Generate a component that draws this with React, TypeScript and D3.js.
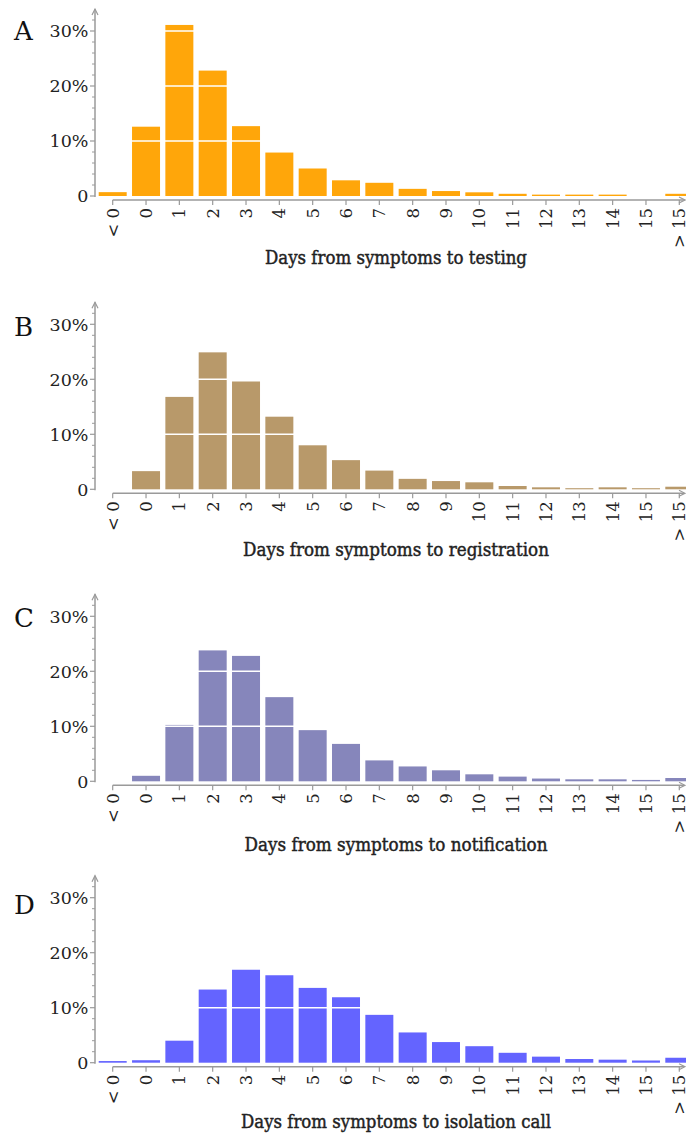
import React from "react";
import * as d3 from "d3";

const categories = ["< 0", "0", "1", "2", "3", "4", "5", "6", "7", "8", "9", "10", "11", "12", "13", "14", "15", "> 15"];
const testing = [0.7, 12.6, 31.1, 22.8, 12.7, 7.9, 5.0, 2.85, 2.4, 1.3, 0.9, 0.67, 0.4, 0.25, 0.25, 0.25, 0, 0.4];
const registration = [0, 3.3, 16.8, 24.9, 19.6, 13.2, 8.0, 5.3, 3.4, 1.9, 1.5, 1.27, 0.6, 0.36, 0.2, 0.36, 0.2, 0.47];
const notification = [0, 1.0, 10.25, 23.8, 22.8, 15.3, 9.3, 6.8, 3.8, 2.7, 2.0, 1.27, 0.85, 0.5, 0.36, 0.36, 0.25, 0.6];
const isolationCall = [0.3, 0.45, 4.0, 13.3, 16.9, 15.9, 13.6, 11.9, 8.7, 5.5, 3.75, 3.0, 1.8, 1.1, 0.67, 0.55, 0.4, 0.9];
const panelLetters = ["A", "B", "C", "D"];
const titles = [
  "Days from symptoms to testing",
  "Days from symptoms to registration",
  "Days from symptoms to notification",
  "Days from symptoms to isolation call",
];
const yTicks = [0, 10, 20, 30];
const yTickLabels = ["0", "10%", "20%", "30%"];
const minorTicks = [2, 4, 6, 8, 12, 14, 16, 18, 22, 24, 26, 28, 32];

const seriesList = [testing, registration, notification, isolationCall];
const colors = ["#ffa60a", "#b8996a", "#8686bb", "#6464ff"];

// layout
const W = 686;
const H = 1136;
const zeros = [196, 489.3, 781.3, 1062.7];
const letterBase = [39.5, 336, 627, 914];
const titleBase = [264, 556, 851, 1128];
const titleWidths = [262, 306, 303, 310];
const axisX = 95;
const axisGray = "#9a9a9a";
const FONT = "'DejaVu Serif', serif";

function Panel({ idx }: { idx: number }) {
  const zero = zeros[idx];
  const values = seriesList[idx];
  const x = d3.scalePoint<string>().domain(categories).range([112.7, 679.3]);
  const y = d3.scaleLinear().domain([0, 34]).range([zero, zero - 187]);
  const barW = 28;
  const xAxisY = zero + 4;
  return (
    <g>
      <text x={14} y={letterBase[idx]} fontFamily={FONT} fontSize={26} fill="#111">
        {panelLetters[idx]}
      </text>
      {/* bars */}
      {values.map((v, i) =>
        v > 0 ? (
          <rect
            key={i}
            x={(x(categories[i]) as number) - barW / 2}
            y={y(v)}
            width={barW}
            height={y(0) - y(v)}
            fill={colors[idx]}
          />
        ) : null
      )}
      {/* white grid lines */}
      {yTicks.slice(1).map((t) => (
        <line key={t} x1={axisX + 2} x2={W} y1={y(t)} y2={y(t)} stroke="#fff" strokeWidth={1.5} />
      ))}
      {/* y axis */}
      <line x1={axisX} x2={axisX} y1={zero + 1} y2={y(34)} stroke={axisGray} strokeWidth={1.5} />
      <path
        d={`M${axisX - 3},${y(34) + 6} L${axisX},${y(34)} L${axisX + 3},${y(34) + 6}`}
        fill="none"
        stroke={axisGray}
        strokeWidth={1.2}
      />
      {yTicks.map((t, i) => (
        <g key={t}>
          <line x1={axisX - 5} x2={axisX} y1={y(t)} y2={y(t)} stroke={axisGray} strokeWidth={1.2} />
          <text
            x={88.5}
            y={y(t)}
            dy="0.36em"
            textAnchor="end"
            fontFamily={FONT}
            fontSize={17.5}
            fill="#222"
          >
            {yTickLabels[i]}
          </text>
        </g>
      ))}
      {minorTicks.map((t) => (
        <line key={t} x1={axisX - 3} x2={axisX} y1={y(t)} y2={y(t)} stroke={axisGray} strokeWidth={1} />
      ))}
      {/* x axis */}
      <line x1={112.7} x2={684} y1={xAxisY} y2={xAxisY} stroke={axisGray} strokeWidth={1.5} />
      <path
        d={`M${679},${xAxisY - 3} L${685},${xAxisY} L${679},${xAxisY + 3}`}
        fill="none"
        stroke={axisGray}
        strokeWidth={1.2}
      />
      {categories.map((c) => {
        const cx = x(c) as number;
        return (
          <g key={c}>
            <line x1={cx} x2={cx} y1={xAxisY} y2={xAxisY + 5} stroke={axisGray} strokeWidth={1.2} />
            <text
              transform={`translate(${cx},${xAxisY + 8}) rotate(-90)`}
              dy="0.36em"
              textAnchor="end"
              fontFamily={FONT}
              fontSize={16.5}
              fill="#222"
            >
              {c}
            </text>
          </g>
        );
      })}
      <text
        x={396}
        y={titleBase[idx]}
        textAnchor="middle"
        fontFamily={FONT}
        fontSize={18}
        fill="#222"
        stroke="#222"
        strokeWidth={0.45}
        textLength={titleWidths[idx]}
        lengthAdjust="spacingAndGlyphs"
      >
        {titles[idx]}
      </text>
    </g>
  );
}

export default function App() {
  return (
    <svg
      width={W}
      height={H}
      viewBox={`0 0 ${W} ${H}`}
      style={{ position: "absolute", left: 0, top: 0, background: "#fff" }}
    >
      <rect x={0} y={0} width={W} height={H} fill="#fff" />
      {[0, 1, 2, 3].map((i) => (
        <Panel key={i} idx={i} />
      ))}
    </svg>
  );
}
